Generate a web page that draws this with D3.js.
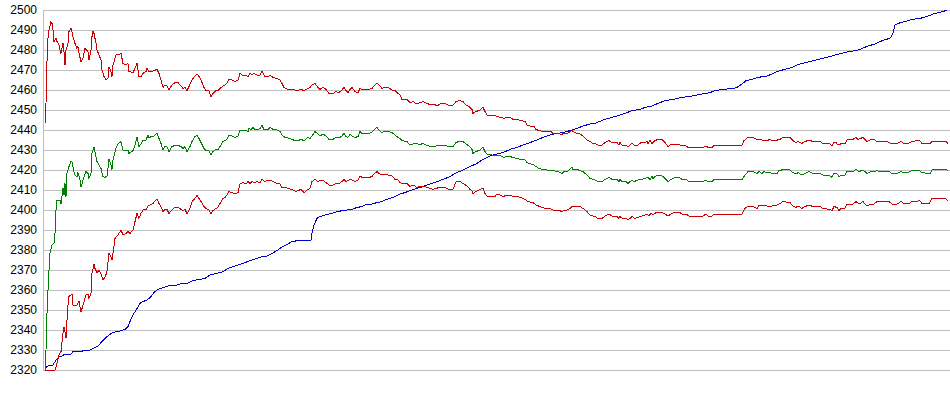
<!DOCTYPE html>
<html>
<head>
    <script src="https://d3js.org/d3.v7.min.js"></script>
    <style>
        body { margin: 0; background: #fff; }
        svg { display: block; }
        .axis text { font-family: Arial, "Liberation Sans", sans-serif; font-size: 12px; fill: #000; }
        .axis line, .axis path { stroke: #c0c0c0; }
        .series { fill: none; stroke-width: 1; shape-rendering: crispEdges; }
    </style>
</head>
<body>
<div id="chart"></div>
<script>
    // y tick labels
    const yTicks = [2320, 2330, 2340, 2350, 2360, 2370, 2380, 2390, 2400, 2410,
                    2420, 2430, 2440, 2450, 2460, 2470, 2480, 2490, 2500];

    // [sample, value] pairs
    const upperRed = [[2,2443.3],[3,2453.3],[4,2474.2],[5,2485.8],[6,2490],[8,2494.2],[9,2493.3],[10,2490],[11,2484.2],[13,2485.8],[14,2484.2],[16,2482.5],[17,2480],[18,2478.3],[20,2483.3],[21,2479.2],[22,2472.5],[23,2480],[25,2483.3],[26,2489.2],[28,2490.8],[29,2489.2],[30,2486.7],[32,2483.3],[34,2480.8],[35,2481.7],[36,2478.3],[38,2474.2],[40,2475.8],[42,2480.8],[45,2479.2],[46,2475],[48,2480],[49,2486.7],[50,2489.2],[51,2488.3],[53,2483.3],[54,2480],[56,2477.5],[58,2475],[59,2470],[61,2466.7],[63,2465.3],[65,2465.8],[66,2471.7],[68,2469.2],[69,2466.7],[70,2472.5],[73,2477.5],[76,2477.8],[78,2478.3],[80,2473.3],[83,2472.5],[85,2473.3],[86,2469.2],[90,2468.7],[92,2470.8],[94,2473.3],[96,2466.7],[98,2466.7],[100,2468.3],[103,2469.2],[104,2470.8],[106,2469.2],[108,2469.2],[111,2469.7],[114,2470.3],[116,2468.3],[118,2465],[120,2461.3],[122,2462.5],[124,2462],[126,2460.3],[129,2462.5],[132,2463.7],[135,2463.7],[138,2462],[140,2460.8],[142,2461.3],[144,2459.7],[146,2461.7],[149,2465],[152,2467],[154,2468],[156,2466.7],[158,2465],[161,2461.3],[163,2459.7],[166,2459.7],[168,2456.7],[170,2458.3],[173,2459.7],[175,2459.7],[177,2460.8],[180,2462],[182,2462.5],[184,2463.3],[186,2465.3],
        [189,2465],[192,2464.2],[195,2465],[197,2468.3],[199,2467.5],[203,2467.5],[205,2466.7],[207,2468.3],[209,2467.5],[211,2468.3],[214,2467.5],[217,2467.5],[219,2469.2],[222,2466.7],[225,2466.7],[227,2467.3],[230,2466.3],[234,2465.8],[237,2465],[239,2463.3],[241,2461.3],[245,2460.3],[250,2460.3],[254,2459.7],[258,2460.3],[261,2459.7],[265,2460.8],[267,2461.3],[269,2462.5],[272,2463.3],[275,2461.3],[277,2460.3],[280,2461.3],[283,2460.3],[286,2458.3],[290,2458.3],[293,2459.2],[296,2458.7],[299,2460],[301,2461.3],[303,2459.7],[305,2458.7],[307,2460.3],[309,2461.3],[312,2459.2],[315,2458.7],[317,2460.8],[319,2460],[322,2460.3],[326,2460.3],[329,2460.8],[331,2462],[334,2463.3],[336,2462.5],[339,2460.8],[341,2461.3],[345,2461.3],[349,2460],[352,2459.7],[355,2458.3],[357,2457.5],[359,2455.3],[364,2455.3],
        [367,2453.7],[370,2454.2],[374,2453],[377,2453.7],[380,2454.2],[384,2453.3],[388,2452.5],[391,2453],[394,2452],[397,2453],[402,2453.3],[405,2452.5],[410,2452.5],[413,2454.2],[416,2454.7],[420,2454.2],[423,2452.5],[426,2451.7],[429,2450.3],[430,2448.3],[433,2449.2],[437,2450],[440,2451.3],[442,2449.2],[444,2447.5],[449,2447.5],[452,2447.5],[454,2446.7],[458,2446.3],[461,2445.8],[464,2446.3],[467,2446.3],[470,2445.3],[474,2445.3],[478,2444.7],[482,2444.2],[484,2442.5],[487,2442],[491,2441.7],[493,2440.3],[496,2439.7],[500,2439.2],[504,2439.2],[508,2439.2],[510,2438.3],[514,2438.3],[517,2438],[519,2437.5],[520,2438.3],[524,2438],[527,2439.2],[529,2440],[530,2439.2],[534,2438.3],[537,2438],[540,2437],[544,2435],[547,2434.2],[550,2433.3],
        [552,2433.3],[555,2432.5],[559,2432.5],[562,2433.7],[566,2434.7],[569,2433.7],[574,2433.7],[576,2432.5],[577,2433.7],[579,2432.5],[583,2432.5],[585,2431.7],[589,2433.3],[591,2432.5],[595,2432.5],[598,2433.7],[601,2433.7],[604,2434.2],[605,2433.3],[607,2434.7],[609,2433.3],[612,2434.7],[615,2435.3],[619,2435.3],[622,2433.7],[625,2431.7],[627,2432.5],[630,2433],[635,2433],[638,2432.3],[642,2432.3],[645,2431.3],[652,2431.3],[660,2431.3],[663,2432],[665,2431.3],[669,2431.3],[671,2432.3],[679,2432.3],[689,2432.3],[699,2432.3],[701,2434.7],[705,2436.3],[710,2436.3],[714,2435.3],[718,2435.3],[720,2434.7],[724,2434.7],[727,2435.3],[729,2434.7],[734,2434.7],[735,2435.3],
        [737,2435.3],[740,2436.3],[747,2436.3],[750,2434.7],[753,2433.7],[755,2434.2],[759,2433.3],[762,2434.2],[766,2435],[770,2434.2],[777,2434.2],[780,2433.3],[787,2433],[789,2432],[791,2433.7],[793,2433.7],[795,2432.5],[799,2433.3],[802,2433.3],[804,2435],[810,2435.3],[813,2436.3],[815,2435.3],[820,2436.3],[822,2435.3],[824,2434.2],[828,2435.3],[831,2435.3],[834,2434.2],[836,2434.2],[840,2434.2],[844,2434.2],[848,2433.3],[854,2433.3],[858,2434.2],[861,2433.3],[865,2433.3],[869,2434.2],[874,2434.7],[876,2435],[879,2433.3],[884,2433.3],[887,2433.3],[889,2434.2],[894,2434.2],[903,2434.2],[905,2433.3]];

    const middleGreen = [[2,2320],[3,2330],[4,2348.3],[5,2360],[6,2370],[7,2378.3],[9,2382.5],[11,2383.3],[12,2388.3],[13,2400],[14,2405],[17,2405],[18,2403],[20,2410.8],[21,2407.5],[22,2413.3],[23,2406.7],[24,2418.3],[26,2421.7],[28,2424.2],[29,2424.2],[31,2419.2],[32,2417.5],[34,2416.7],[35,2418.7],[37,2415],[38,2411.3],[40,2415],[43,2419.2],[45,2418.3],[46,2415.8],[48,2418.3],[49,2428.3],[51,2431.7],[52,2429.2],[54,2424.2],[56,2422.5],[58,2420.8],[60,2416.7],[62,2416.3],[64,2417],[66,2425.3],[68,2422.5],[69,2420.3],[70,2425],[73,2430.8],[75,2433],[78,2434.2],[80,2430],[83,2429.7],[85,2430],[86,2428.3],[90,2429.7],[92,2432.5],[94,2436.3],[96,2431.7],[98,2433],[100,2434.7],[103,2435],[105,2437.5],[106,2436.3],[109,2436.7],[111,2437],[114,2438.3],[116,2435.8],[118,2433.3],[120,2430],[122,2431.7],[124,2431.7],[126,2429.2],[129,2431.7],[132,2432.3],[135,2432.3],[138,2431.7],[140,2430.8],[142,2431.7],[144,2429.2],[147,2431.7],[149,2434.2],[152,2436.7],[154,2437.5],[156,2435.8],[158,2433.7],[161,2430.8],[163,2429.7],[166,2429.7],[168,2427.5],[170,2429.2],[173,2430.3],[175,2430.3],[177,2431.7],[180,2434.2],[182,2434.7],[184,2435.3],[186,2437.5],
        [189,2437],[192,2436.3],[195,2437],[197,2440],[200,2440],[203,2439.7],[205,2439.2],[206,2440.8],[208,2440],[210,2441.3],[212,2440.3],[215,2440.3],[217,2440.8],[219,2442.3],[221,2440.3],[225,2440.3],[227,2441.3],[230,2440.3],[234,2440],[237,2439.2],[239,2437.5],[242,2436.3],[245,2436],[249,2435.3],[252,2434.7],[255,2434.7],[258,2435.3],[261,2434.7],[265,2436.3],[267,2435.8],[269,2437],[272,2439.2],[275,2438],[277,2437],[280,2438],[283,2437],[286,2435.3],[290,2435.3],[293,2436.3],[296,2436],[299,2437],[301,2438.3],[303,2436.7],[305,2436.3],[307,2438],[309,2437],[312,2436.3],[315,2436.7],[317,2439.2],[319,2438.3],[322,2438.3],[326,2438.3],[329,2439],[331,2440],[334,2441.3],[336,2440],[339,2438.7],[341,2439.2],[345,2439.2],[349,2438.7],[352,2437.5],[355,2436.3],[357,2435.8],[359,2434.7],[364,2434.2],
        [367,2432.5],[370,2433],[374,2433.3],[376,2432.5],[380,2433.3],[383,2432.5],[386,2432],[390,2431.7],[393,2432],[396,2432.3],[400,2432.5],[404,2432],[410,2431.7],[413,2433.7],[416,2434.3],[420,2434.2],[423,2433],[426,2432],[429,2430.3],[430,2428.3],[433,2429.2],[437,2430],[440,2431.3],[442,2429.2],[444,2428],[449,2427.5],[454,2427.5],[458,2427],[461,2426.3],[464,2427],[467,2426.7],[470,2426.3],[474,2425.8],[478,2425.3],[482,2425],[484,2423.7],[488,2423],[491,2422.5],[493,2421.7],[496,2420.8],[500,2420.3],[504,2420],[508,2420],[510,2419.7],[515,2419.2],[519,2418.3],[521,2419.2],[524,2419.2],[526,2420],[529,2421.3],[530,2420.3],[534,2420.3],[537,2419.7],[540,2419.2],[544,2417.5],[547,2415.8],[550,2415.3],
        [552,2415],[555,2414.2],[559,2414.2],[562,2415.3],[566,2416.3],[569,2415.3],[574,2415.3],[576,2414.2],[577,2415.3],[579,2414.2],[583,2414.2],[585,2413.3],[589,2415],[591,2414.2],[595,2415],[599,2415.3],[602,2415.8],[605,2416.3],[607,2415.3],[609,2416.7],[610,2415.8],[614,2417.5],[618,2417.5],[622,2415.8],[625,2414.2],[628,2415.3],[632,2416.3],[636,2416.3],[639,2415.3],[643,2415.3],[646,2414.2],[652,2414.2],[660,2414.2],[663,2415],[665,2414.2],[669,2414.2],[671,2415.3],[699,2415.3],[702,2417.5],[705,2419.2],[710,2419.2],[714,2418.3],[716,2419.2],[719,2418.3],[721,2419.2],[724,2418.7],[727,2418.7],[729,2418.3],[734,2418.3],[736,2419.7],
        [737,2419.7],[740,2420.3],[747,2420],[750,2418.7],[753,2418],[755,2418.7],[759,2417.5],[762,2418.3],[766,2419.2],[770,2418.3],[777,2418.3],[780,2417.5],[787,2417],[789,2416.3],[791,2418.3],[794,2418],[796,2416.7],[798,2417.5],[802,2417.5],[804,2419.2],[810,2419.2],[813,2420.3],[816,2419.2],[820,2420],[822,2419.2],[824,2418.3],[828,2419.2],[831,2419.2],[834,2419.7],[837,2419.2],[846,2419.2],[849,2418.3],[854,2418.3],[858,2419.2],[861,2418.7],[865,2418.7],[869,2419.7],[874,2419.7],[876,2420],[879,2418.7],[884,2418.3],[887,2418.3],[889,2420],[894,2420.3],[903,2420.3],[905,2419.7]];

    const lowerRed = [[2,2320],[12,2320],[14,2323.3],[16,2327.5],[18,2329.2],[20,2338.3],[21,2341.7],[22,2339.2],[23,2335.8],[24,2345],[25,2352.5],[26,2356.7],[29,2358],[30,2352.5],[32,2352],[34,2352.5],[36,2354.5],[37,2351.7],[38,2349],[40,2352.5],[43,2357.5],[45,2358],[46,2355.8],[48,2358.3],[49,2368.3],[51,2372.8],[52,2370.8],[54,2368.7],[56,2369.7],[58,2368],[60,2365],[62,2366.3],[64,2369.2],[66,2378.3],[68,2376.7],[69,2375],[70,2378.3],[72,2385.8],[75,2387.5],[78,2390],[80,2387.5],[83,2388.3],[85,2389.2],[87,2388.3],[90,2390],[92,2394.2],[94,2398.3],[96,2395.8],[98,2398.3],[100,2400],[103,2400.3],[105,2402],[107,2402.5],[110,2403.3],[114,2405.5],[116,2403.3],[118,2401.7],[120,2399.2],[122,2400.3],[124,2400.3],[126,2398.3],[129,2400],[132,2401.3],[135,2401.3],[138,2400.3],[140,2399.7],[142,2400.3],[144,2398.3],[147,2400.8],[149,2404.2],[152,2405.8],[154,2407.5],[156,2405.8],[158,2404.2],[161,2401.7],[163,2400.8],[166,2400],[168,2398],[170,2399.7],[173,2400.8],[175,2401.3],[177,2403.3],[180,2405.8],[182,2406.3],[184,2407.5],[186,2409.2],
        [189,2408.7],[192,2408],[195,2408.7],[197,2413],[200,2413.7],[203,2413],[205,2414.2],[207,2413.3],[209,2414.2],[211,2413.7],[214,2414.2],[217,2413.7],[219,2415.3],[222,2414.2],[225,2415],[227,2415],[230,2414.2],[234,2413.3],[237,2413],[239,2411.3],[242,2411.3],[245,2410.8],[249,2410.3],[253,2409.2],[255,2409.7],[258,2410.3],[261,2408.7],[265,2410.3],[267,2410.8],[269,2414.2],[272,2415.3],[275,2414.2],[277,2414.7],[280,2415],[283,2413.7],[286,2412.5],[290,2412.5],[293,2413.3],[296,2413.3],[299,2414.2],[301,2415.3],[303,2414.2],[305,2414.7],[307,2415.3],[309,2415],[312,2414.2],[315,2415],[317,2417],[319,2416.3],[322,2416.3],[326,2416.3],[329,2416.7],[331,2418],[334,2419.2],[336,2418.3],[339,2417.5],[341,2418],[345,2417.5],[349,2417],[352,2415.3],[355,2415],[357,2413.7],[359,2413.3],[364,2413.3],
        [367,2411.7],[370,2412.5],[374,2411.3],[377,2412],[381,2412],[384,2411.3],[388,2410.8],[390,2410.3],[393,2410.8],[397,2411.3],[402,2411.3],[406,2410.3],[410,2410.3],[413,2414.2],[417,2414.2],[420,2413.3],[424,2412],[427,2410.3],[429,2409.7],[430,2408.3],[433,2409.2],[437,2410.3],[440,2410.8],[442,2408.3],[444,2407],[449,2406.7],[452,2406.7],[454,2408],[457,2407.5],[460,2406.7],[464,2407.5],[467,2407.5],[470,2406.7],[474,2406.7],[478,2406.3],[482,2405.3],[485,2404.2],[490,2403.7],[493,2402.5],[497,2401.7],[502,2400.8],[507,2400.8],[510,2400],[515,2400],[519,2399.2],[521,2400],[524,2400],[527,2400.8],[529,2401.7],[534,2401.7],[537,2401.7],[540,2400.8],[544,2399.2],[547,2397.5],[550,2397],
        [552,2396.7],[555,2395.8],[559,2395.8],[562,2397],[566,2398],[569,2397],[574,2396.7],[576,2395.8],[577,2396.7],[580,2395.7],[583,2395.8],[585,2395],[589,2396.7],[592,2395.8],[595,2396.3],[599,2397],[602,2397.5],[604,2398],[606,2397],[608,2398.3],[610,2397.5],[614,2399],[618,2399],[622,2398],[625,2397],[628,2398],[632,2399],[636,2399],[639,2398],[643,2398],[646,2397],[660,2397],[663,2398],[665,2397],[669,2397],[671,2398],[699,2398],[702,2400.8],[705,2401.7],[710,2401.7],[714,2400.8],[716,2402.5],[719,2402],[721,2402.5],[724,2402],[729,2402],[734,2402.5],[736,2403],
        [737,2403.3],[740,2404.2],[747,2403.7],[750,2402],[753,2401.3],[755,2402],[759,2400.8],[762,2401.7],[766,2402.5],[770,2401.7],[777,2401.7],[780,2400.8],[787,2400.3],[789,2399.7],[791,2401.7],[794,2401.3],[796,2399.7],[798,2400.8],[802,2400.8],[804,2403],[810,2403],[813,2404.2],[816,2403],[820,2404.2],[822,2403],[824,2402],[828,2403],[831,2403],[834,2404.2],[837,2404.2],[846,2404.2],[849,2403],[854,2403],[858,2404.2],[861,2403.3],[865,2403],[869,2404.2],[874,2404.2],[876,2405],[879,2403.3],[886,2403],[889,2405.8],[894,2405.8],[902,2405.8],[905,2404.7]];

    const blueLine = [[2,2320],[4,2321.7],[6,2322.5],[10,2322.5],[13,2325],[16,2326.7],[19,2327],[22,2328],[28,2328],[30,2329.2],[39,2329.2],[40,2330],[47,2330],[50,2330.8],[55,2332],[59,2334.2],[62,2335.8],[66,2337.5],[70,2338.8],[77,2339.5],[82,2340.3],[85,2341.7],[87,2344.2],[90,2347.5],[94,2350.8],[97,2353.3],[100,2354.2],[104,2355],[108,2356.7],[111,2358.7],[114,2360],[117,2360.8],[121,2361.3],[125,2362],[134,2362.5],[137,2363],[144,2363.3],[150,2364.7],[157,2365.3],[162,2365.8],[167,2367.5],[174,2368.3],[180,2369.2],[185,2370.8],
        [190,2371.7],[195,2372.5],[202,2373.7],[209,2375],[214,2375.8],[219,2376.7],[224,2377],[229,2378.3],[234,2379.7],[237,2380.8],[241,2382],[245,2383],[249,2384.2],[255,2384.7],[261,2385],[268,2385],[269,2388.3],[271,2392.5],[274,2395.8],[277,2396.7],[282,2397.5],[289,2398.3],[294,2399.2],[300,2399.7],[309,2400.3],[314,2401.3],[319,2401.7],[322,2402.5],[329,2403],[334,2403.7],[339,2404.2],[342,2405],[347,2405.8],[352,2406.7],[357,2408],[362,2408.7],
        [367,2409.7],[374,2410.8],[380,2411.7],[387,2413],[394,2414.2],[400,2415.3],[407,2416.7],[412,2418.3],[420,2420],[427,2421.7],[434,2423.3],[440,2425.3],[447,2427],[454,2428],[460,2428.7],[467,2430.3],[474,2431.3],[480,2432.5],[487,2433.7],[494,2435],[500,2436.3],[507,2437.5],[514,2438.3],[520,2438.7],[527,2439.7],[534,2440.8],[540,2442],[547,2443],
        [552,2443.3],[556,2444.2],[562,2445.3],[569,2446.3],[577,2447.5],[584,2448.7],[589,2449.7],[597,2450.3],[602,2451.3],[609,2452],[615,2453.3],[622,2454.7],[630,2455.3],[639,2456.3],[649,2457],[659,2458],[667,2458.7],[672,2459.7],[680,2460.3],[690,2460.8],[694,2461.3],[699,2463],[703,2464.7],[709,2465.3],[715,2466.3],[724,2467],[729,2468],[734,2469.2],
        [737,2469.7],[742,2470.3],[749,2471.3],[754,2472.5],[759,2473.3],[767,2474.2],[775,2475.3],[784,2476.3],[792,2477.5],[799,2478.3],[805,2479.2],[814,2479.7],[819,2480.8],[825,2482],[832,2483],[837,2484.2],[843,2485.3],[847,2485.8],[850,2488.3],[852,2492.5],[855,2493.3],[862,2494.2],[869,2495.3],[877,2495.8],[884,2496.7],[890,2498],[896,2498.7],[900,2499.2],[904,2500]];

    const width = 950;
    const height = 395;
    const margin = { top: 10, right: 2, bottom: 25, left: 43 };

    const svg = d3.select("#chart")
        .append("svg")
        .attr("width", width)
        .attr("height", height);

    const x = d3.scaleLinear()
        .domain([0, 905])
        .range([margin.left, width - margin.right]);

    const y = d3.scaleLinear()
        .domain([2320, 2500])
        .range([height - margin.bottom, margin.top]);

    // y axis with full-width gridlines
    svg.append("g")
        .attr("class", "axis")
        .attr("transform", `translate(${margin.left},0)`)
        .call(d3.axisLeft(y)
            .tickValues(yTicks)
            .tickFormat(d3.format("d"))
            .tickSizeInner(-(width - margin.left))
            .tickSizeOuter(0)
            .tickPadding(6))
        .call(g => g.selectAll("line").attr("shape-rendering", "crispEdges"))
        .call(g => g.select(".domain").attr("shape-rendering", "crispEdges"));

    const line = d3.line()
        .x(d => x(d[0]))
        .y(d => y(d[1]));

    const series = [
        { data: blueLine, color: "#0000c8" },
        { data: lowerRed, color: "#cc0000" },
        { data: middleGreen, color: "#008000" },
        { data: upperRed, color: "#cc0000" }
    ];

    svg.selectAll("path.series")
        .data(series)
        .enter()
        .append("path")
        .attr("class", "series")
        .attr("stroke", d => d.color)
        .attr("d", d => line(d.data));
</script>
</body>
</html>
